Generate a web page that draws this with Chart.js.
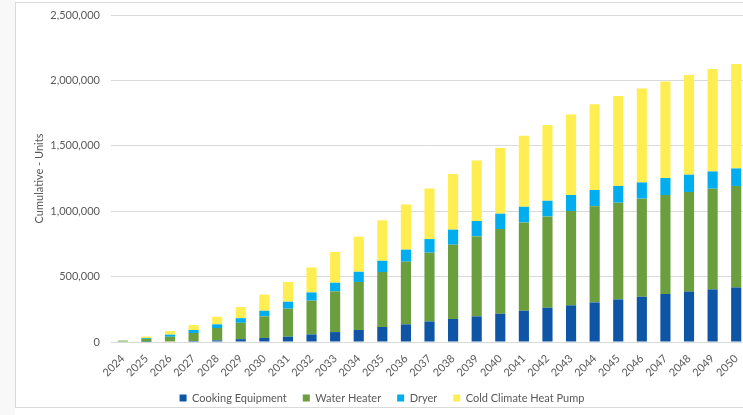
<!DOCTYPE html>
<html>
<head>
<meta charset="utf-8">
<script src="https://cdn.jsdelivr.net/npm/chart.js@4.4.1/dist/chart.umd.min.js"></script>
<style>
  html, body { margin: 0; padding: 0; background: #ffffff; overflow: hidden; width: 743px; height: 415px; }
  #frame {
    position: absolute; left: 15px; top: 2px; width: 800px; height: 404px;
    border: 1px solid #d9d9d9; border-right: none;
  }
  #side { position: absolute; left: 0; top: 0; width: 15px; height: 415px; background: #f8f8f8; }
  #chart { position: absolute; left: 16px; top: 3px; }
</style>
</head>
<body>
<div id="side"></div>
<div id="frame"></div>
<canvas id="chart" width="752" height="412"></canvas>
<script>
// Cumulative units installed per year, by equipment type
const years = ['2024','2025','2026','2027','2028','2029','2030','2031','2032','2033','2034','2035','2036','2037',
               '2038','2039','2040','2041','2042','2043','2044','2045','2046','2047','2048','2049','2050'];

const cookingEquipment = [0, 2000, 4000, 8000, 12000, 22000, 31000, 41000, 58000, 76000, 92000, 115000, 135000, 157000,
                          176000, 196000, 216000, 239000, 262000, 280000, 303000, 326000, 346000, 367000, 385000, 402000, 417000];
const waterHeater = [8000, 22000, 36000, 61000, 95000, 125000, 165000, 214000, 258000, 311000, 367000, 420000, 479000, 526000,
                     568000, 611000, 648000, 675000, 698000, 721000, 734000, 739000, 750000, 757000, 762000, 770000, 776000];
const dryer = [2000, 6000, 16000, 23000, 28000, 35000, 43000, 53000, 63000, 66000, 78000, 86000, 92000, 104000,
               115000, 118000, 117000, 120000, 120000, 123000, 125000, 128000, 124000, 130000, 132000, 132000, 134000];
const coldClimateHeatPump = [5000, 12000, 28000, 38000, 58000, 85000, 123000, 151000, 191000, 235000, 268000, 309000, 346000, 387000,
                             425000, 463000, 502000, 543000, 579000, 616000, 655000, 688000, 719000, 738000, 762000, 783000, 798000];

const yTicks = [0, 500000, 1000000, 1500000, 2000000, 2500000];

const fontFamily = 'Lato, "Open Sans", "Liberation Sans", sans-serif';
const textColor = '#595959';

const series = [
  { label: 'Cooking Equipment', data: cookingEquipment, color: '#0E56A5' },
  { label: 'Water Heater', data: waterHeater, color: '#6B9E3D' },
  { label: 'Dryer', data: dryer, color: '#00AEEF' },
  { label: 'Cold Climate Heat Pump', data: coldClimateHeatPump, color: '#FFEE52' }
];

new Chart(document.getElementById('chart'), {
  type: 'bar',
  data: {
    labels: years,
    datasets: series.map(s => ({
      label: s.label,
      data: s.data,
      backgroundColor: s.color,
      borderWidth: 0,
      barPercentage: 0.43,
      categoryPercentage: 1.0
    }))
  },
  options: {
    responsive: false,
    animation: false,
    layout: { padding: { top: 12, right: 20, bottom: 1.5, left: 0 } },
    plugins: {
      tooltip: { enabled: false },
      legend: {
        position: 'bottom',
        labels: {
          boxWidth: 7,
          boxHeight: 7,
          padding: 16,
          color: textColor,
          font: { family: fontFamily, size: 11 }
        }
      }
    },
    scales: {
      x: {
        stacked: true,
        grid: { display: false },
        border: { display: true, color: '#d9d9d9' },
        ticks: {
          autoSkip: false,
          minRotation: 45,
          maxRotation: 45,
          padding: 2,
          color: textColor,
          font: { family: fontFamily, size: 11 }
        },
        afterFit: scale => { scale.height = 34.5; }
      },
      y: {
        stacked: true,
        min: 0,
        max: 2500000,
        afterBuildTicks: scale => { scale.ticks = yTicks.map(v => ({ value: v })); },
        grid: { color: '#d9d9d9', drawTicks: false },
        border: { display: false },
        ticks: {
          padding: 11,
          color: textColor,
          font: { family: fontFamily, size: 11 },
          callback: v => Number(v).toLocaleString('en-US')
        },
        title: {
          display: true,
          text: 'Cumulative - Units',
          color: textColor,
          font: { family: fontFamily, size: 11 },
          padding: { top: 17, bottom: 0 }
        },
        afterFit: scale => {
          scale.width = 95;
          scale.paddingTop = 0;
          scale.paddingBottom = 0;
        }
      }
    }
  }
});
</script>
</body>
</html>
